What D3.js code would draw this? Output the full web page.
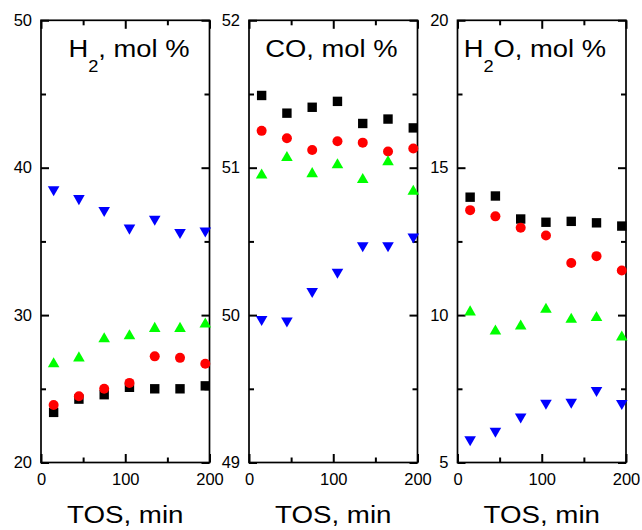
<!DOCTYPE html>
<html>
<head>
<meta charset="utf-8">
<script src="https://cdn.jsdelivr.net/npm/d3@7/dist/d3.min.js"></script>
<style>
    body { margin: 0; background: #fff; }
    svg { display: block; }
    text { font-family: "Liberation Sans", Arial, sans-serif; fill: #000; }
</style>
</head>
<body>
<svg id="chart" width="642" height="530"></svg>
<script>
(function() {
    'use strict';

    // time on stream, min
    var tos = [15, 45, 75, 105, 135, 165, 195];
    var xTicks = [0, 100, 200];
    var xMinor = [50, 150];

    // H2, mol %
    var h2Black = [23.4, 24.3, 24.6, 25.1, 25.0, 25.0, 25.2];
    var h2Red = [23.9, 24.5, 25.0, 25.4, 27.2, 27.1, 26.7];
    var h2Green = [26.8, 27.2, 28.5, 28.7, 29.2, 29.2, 29.5];
    var h2Blue = [38.4, 37.8, 37.0, 35.8, 36.4, 35.5, 35.6];
    var h2Ticks = [20, 30, 40, 50];
    var h2Minor = [25, 35, 45];

    // CO, mol %
    var coBlack = [51.49, 51.37, 51.41, 51.45, 51.30, 51.33, 51.27];
    var coRed = [51.25, 51.20, 51.12, 51.18, 51.17, 51.11, 51.13];
    var coGreen = [50.96, 51.08, 50.97, 51.03, 50.93, 51.05, 50.85];
    var coBlue = [49.96, 49.95, 50.15, 50.28, 50.46, 50.46, 50.52];
    var coTicks = [49, 50, 51, 52];
    var coMinor = [49.5, 50.5, 51.5];

    // H2O, mol %
    var h2oBlack = [14.0, 14.04, 13.26, 13.15, 13.18, 13.13, 13.02];
    var h2oRed = [13.56, 13.35, 12.96, 12.70, 11.77, 12.0, 11.51];
    var h2oGreen = [10.16, 9.51, 9.68, 10.25, 9.91, 9.97, 9.31];
    var h2oBlue = [5.72, 6.01, 6.49, 6.96, 6.99, 7.39, 6.95];
    var h2oTicks = [5, 10, 15, 20];
    var h2oMinor = [7.5, 12.5, 17.5];

    var panels = [
        {left: 41, title: ['H', '2', ', mol %'], ticks: h2Ticks, minor: h2Minor,
            series: [h2Black, h2Red, h2Green, h2Blue]},
        {left: 249, title: ['CO, mol %'], ticks: coTicks, minor: coMinor,
            series: [coBlack, coRed, coGreen, coBlue]},
        {left: 457.5, title: ['H', '2', 'O, mol %'], ticks: h2oTicks, minor: h2oMinor,
            series: [h2oBlack, h2oRed, h2oGreen, h2oBlue]}
    ];

    // 标记样式: 方块, 圆, 正三角, 倒三角
    var shapes = ['square', 'circle', 'up', 'down'];
    var colors = ['#000000', '#ff0000', '#00ff00', '#0000ff'];

    var pw = 168.5, top = 20.3, bottom = 462.5;
    var svg = d3.select('#chart');

    function markerPath(shape) {
        if (shape === 'square') {
            var a = 4.7;
            return 'M' + (-a) + ',' + (-a) + 'H' + a + 'V' + a + 'H' + (-a) + 'Z';
        }
        var s = 11.6, h = s * Math.sqrt(3) / 2, k = shape === 'up' ? 1 : -1;
        return 'M0,' + (-k * h / 2) + 'L' + (s / 2) + ',' + (k * h / 2) +
            'L' + (-s / 2) + ',' + (k * h / 2) + 'Z';
    }

    panels.forEach(function(p) {
        var x = d3.scaleLinear().domain([0, 200]).range([0, pw]);
        var y = d3.scaleLinear().domain([p.ticks[0], p.ticks[p.ticks.length - 1]]).range([bottom - top, 0]);
        var g = svg.append('g').attr('transform', 'translate(' + p.left + ',' + top + ')');
        var h = bottom - top;

        function axis(gen, tx, ty, vals, size, labels) {
            var a = g.append('g').attr('transform', 'translate(' + tx + ',' + ty + ')')
                .call(gen.tickValues(vals).tickSize(-size)
                    .tickPadding(gen.orient === 'x' ? 10.4 : 9)
                    .tickFormat(labels ? d3.format('d') : ''));
            a.select('.domain').remove();
            a.selectAll('.tick line').attr('stroke', '#000').attr('stroke-width', 2);
            a.selectAll('text').attr('font-size', '16.5px')
                .attr('font-family', '"Liberation Sans", Arial, sans-serif').attr('fill', '#000');
            return a;
        }

        // y 轴 (左右), x 轴 (上下), 刻度朝内
        axis(d3.axisLeft(y), 0, 0, p.ticks, 8, true);
        axis(d3.axisLeft(y), 0, 0, p.minor, 5, false);
        axis(d3.axisRight(y), pw, 0, p.ticks, 8, false);
        axis(d3.axisRight(y), pw, 0, p.minor, 5, false);
        var bx = d3.axisBottom(x); bx.orient = 'x';
        axis(bx, 0, h, xTicks, 8.5, true);
        axis(d3.axisBottom(x), 0, h, xMinor, 5, false);
        axis(d3.axisTop(x), 0, 0, xTicks, 8.5, false);
        axis(d3.axisTop(x), 0, 0, xMinor, 5, false);

        g.append('rect').attr('width', pw).attr('height', h)
            .attr('fill', 'none').attr('stroke', '#000').attr('stroke-width', 1.7);

        // 数据点
        p.series.forEach(function(vals, si) {
            var sg = g.append('g').attr('fill', colors[si]);
            if (shapes[si] === 'circle') {
                sg.selectAll('circle').data(vals).enter().append('circle')
                    .attr('cx', function(d, i) { return x(tos[i]); })
                    .attr('cy', function(d) { return y(d); })
                    .attr('r', 5);
            } else {
                sg.selectAll('path').data(vals).enter().append('path')
                    .attr('d', markerPath(shapes[si]))
                    .attr('transform', function(d, i) {
                        return 'translate(' + x(tos[i]) + ',' + y(d) + ')';
                    });
            }
        });

        // 标题
        var t = g.append('text').attr('text-anchor', 'end').attr('font-size', '24px')
            .attr('transform', 'translate(' + (pw - 20) + ',' + (57 - top) + ') scale(1.14,1)');
        p.title.forEach(function(part) {
            var ts = t.append('tspan').text(part);
            if (part === '2') {
                ts.attr('font-size', '16px').attr('dy', 15);
            } else if (ts.node().previousSibling) {
                ts.attr('dy', -15);
            }
        });

        // x 轴标题
        g.append('text').attr('text-anchor', 'middle').attr('font-size', '24px')
            .attr('transform', 'translate(' + (pw / 2) + ',' + (523 - top) + ') scale(1.155,1)')
            .text('TOS, min');
    });
})();
</script>
</body>
</html>
